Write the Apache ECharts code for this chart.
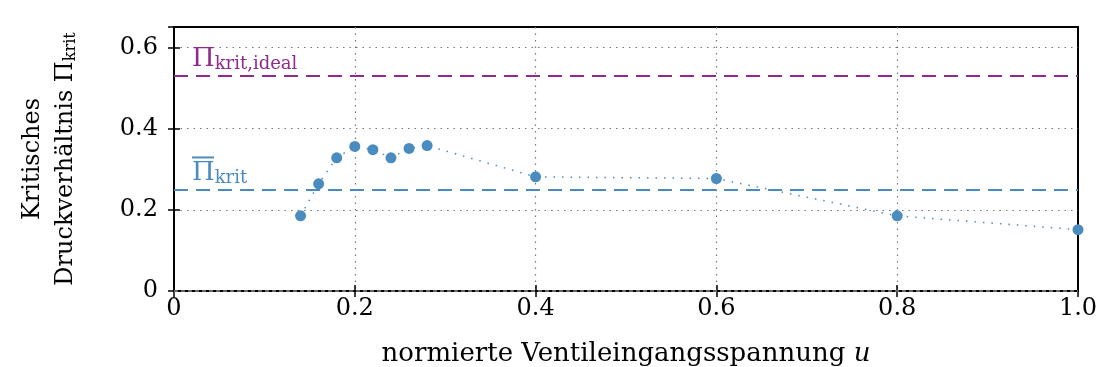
<!DOCTYPE html>
<html><head><meta charset="utf-8">
<script src="https://cdn.jsdelivr.net/npm/echarts@6/dist/echarts.min.js"></script>
<style>html,body{margin:0;padding:0;background:#fff;overflow:hidden}#c{width:1101px;height:367px}</style>
</head><body><div id="c"></div>
<script>
var uValues = [0.14, 0.16, 0.18, 0.20, 0.22, 0.24, 0.26, 0.28, 0.40, 0.60, 0.80, 1.00];
var piValues = [0.185, 0.264, 0.328, 0.356, 0.348, 0.328, 0.351, 0.358, 0.281, 0.277, 0.185, 0.151];
var piIdeal = 0.53;
var piMean = 0.25;
var xTicks = ['0', '0.2', '0.4', '0.6', '0.8', '1.0'];
var yTicks = ['0', '0.2', '0.4', '0.6'];

var FONT = 'DejaVu Serif';
var blue = '#4a8cbf', purple = '#8f2a8e';
var chart = echarts.init(document.getElementById('c'));
var pts = uValues.map(function (u, i) { return [u, piValues[i]]; });
var grid = {show: true, showMinLine: false, showMaxLine: false,
  lineStyle: {color: '#777', type: [1.5, 5], width: 1.2}};
var tick = {show: true, inside: true, length: 6, lineStyle: {color: '#000', width: 1.5}};
var line = {show: true, lineStyle: {color: '#000', width: 2}};
chart.setOption({
  animation: false,
  grid: {left: 174, width: 904, top: 27, height: 264, outerBoundsMode: 'none', containLabel: false,
    show: true, borderColor: '#000', borderWidth: 2},
  xAxis: [{
    type: 'value', min: 0, max: 1, interval: 0.2,
    axisLine: line, axisTick: tick, splitLine: grid,
    axisLabel: {fontFamily: FONT, fontSize: 24, color: '#000', margin: 6,
      formatter: function (v) { return xTicks[Math.round(v / 0.2)]; }},
    name: 'normierte Ventileingangsspannung {i|u}', nameLocation: 'middle', nameGap: 50,
    nameTextStyle: {fontFamily: FONT, fontSize: 26, color: '#000',
      rich: {i: {fontFamily: FONT, fontStyle: 'italic', fontSize: 26, color: '#000'}}}
  }, {
    type: 'value', min: 0, max: 1, interval: 0.2, position: 'top',
    axisLine: line, axisTick: tick, axisLabel: {show: false}, splitLine: {show: false}
  }],
  yAxis: [{
    type: 'value', min: 0, max: 0.65, interval: 0.2,
    axisLine: line, axisTick: tick, splitLine: grid,
    axisLabel: {fontFamily: FONT, fontSize: 24, color: '#000', margin: 16, showMaxLabel: false,
      formatter: function (v) { return v > 0.62 ? '' : yTicks[Math.round(v / 0.2)]; }},
    name: 'Kritisches\nDruckverhältnis Π{s|krit}', nameLocation: 'middle', nameGap: 92, nameRotate: 90,
    nameTextStyle: {fontFamily: FONT, fontSize: 24, color: '#000', lineHeight: 33, align: 'center',
      rich: {s: {fontFamily: FONT, fontSize: 16, color: '#000', padding: [10, 0, 0, 0]}}}
  }, {
    type: 'value', min: 0, max: 0.65, interval: 0.2, position: 'right',
    axisLine: line, axisTick: tick, axisLabel: {show: false}, splitLine: {show: false}
  }],
  series: [{
    type: 'line', data: pts, symbol: 'circle', symbolSize: 11,
    itemStyle: {color: blue},
    lineStyle: {color: blue, width: 1.5, type: [1.5, 7]},
    z: 5,
    markLine: {
      silent: true, symbol: 'none',
      data: [
        {yAxis: piIdeal, lineStyle: {color: purple, type: [14, 8], width: 2},
          label: {show: true, position: 'insideStartTop', distance: [18, 2],
            formatter: '{p|Π}{s|krit,ideal}', color: purple,
            rich: {p: {fontFamily: FONT, fontSize: 26, color: purple},
                   s: {fontFamily: FONT, fontSize: 18, color: purple, padding: [10, 0, 0, 0]}}}},
        {yAxis: piMean, lineStyle: {color: blue, type: [14, 8], width: 2},
          label: {show: true, position: 'insideStartTop', distance: [18, 2],
            formatter: '{m| }\n{p|Π}{s|krit}', color: blue,
            rich: {m: {width: 22, height: 2, lineHeight: 4, backgroundColor: blue, fontSize: 2, padding: 0},
                   p: {fontFamily: FONT, fontSize: 26, color: blue},
                   s: {fontFamily: FONT, fontSize: 18, color: blue, padding: [10, 0, 0, 0]}}}},
        {yAxis: 0, lineStyle: {color: '#888', type: [4, 3], width: 1.5}, label: {show: false}}
      ]
    }
  }]
});
</script></body></html>
